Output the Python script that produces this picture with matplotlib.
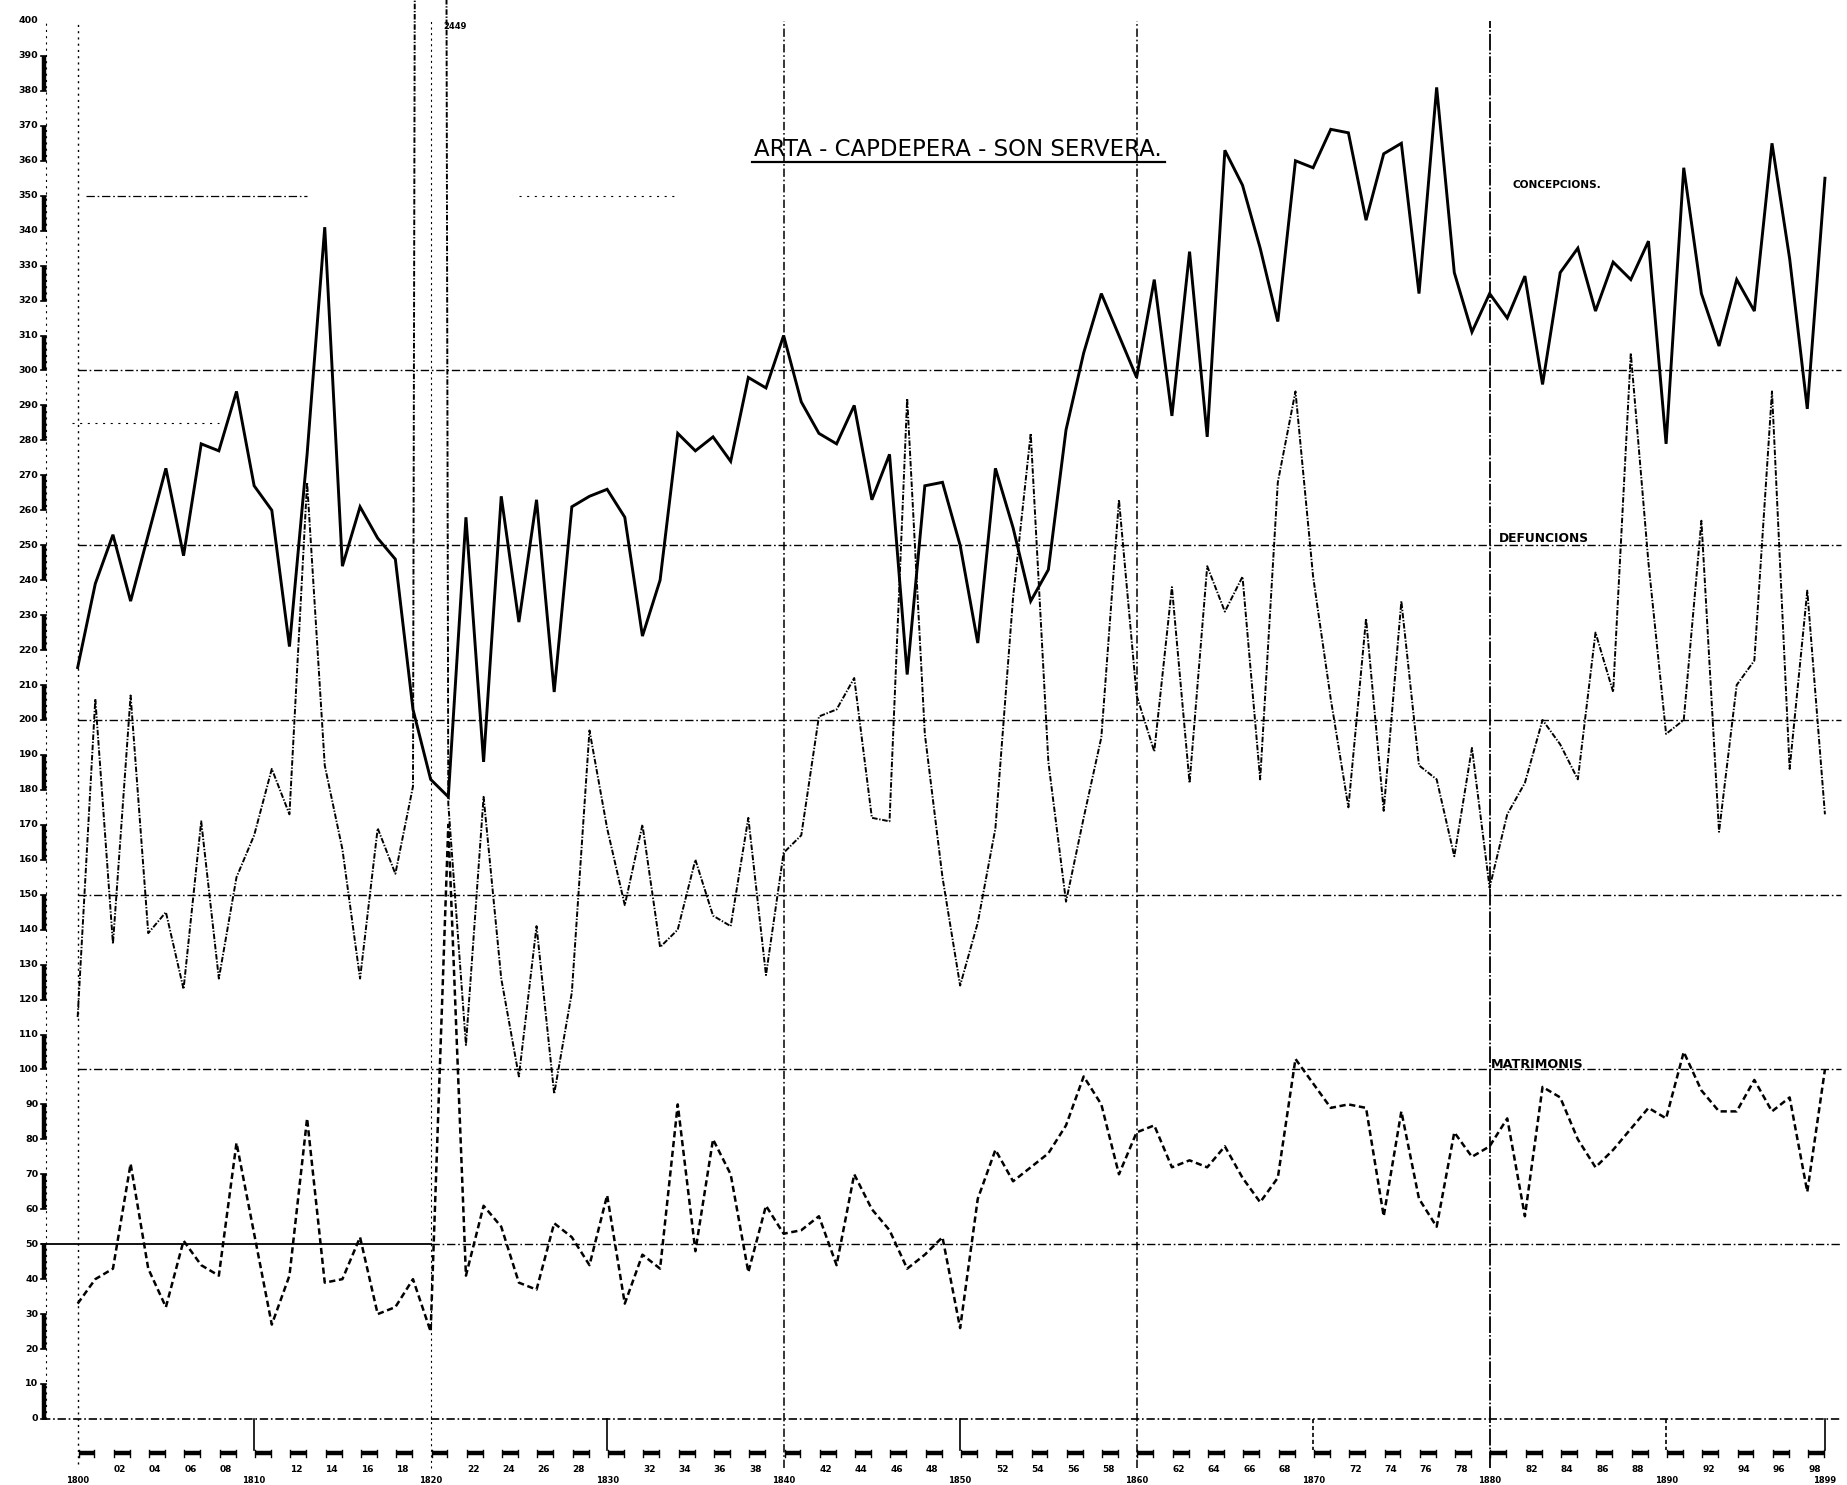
import numpy as np
import matplotlib
matplotlib.use("Agg")
import matplotlib.pyplot as plt
from matplotlib import font_manager

plt.rcParams["lines.scale_dashes"] = False

years = np.arange(1800, 1900)

concepcions = [215, 239, 253, 234, 253, 272, 247, 279, 277, 294,
               267, 260, 221, 276, 341, 244, 261, 252, 246, 203,
               183, 178, 258, 188, 264, 228, 263, 208, 261, 264,
               266, 258, 224, 240, 282, 277, 281, 274, 298, 295,
               310, 291, 282, 279, 290, 263, 276, 213, 267, 268,
               250, 222, 272, 255, 234, 243, 283, 305, 322, 310,
               298, 326, 287, 334, 281, 363, 353, 335, 314, 360,
               358, 369, 368, 343, 362, 365, 322, 381, 328, 311,
               322, 315, 327, 296, 328, 335, 317, 331, 326, 337,
               279, 358, 322, 307, 326, 317, 365, 332, 289, 355]

defuncions = [115, 206, 136, 207, 139, 145, 123, 171, 126, 155,
              167, 186, 173, 268, 187, 163, 126, 169, 156, 181,
              2449, 176, 107, 178, 126, 98, 141, 93, 122, 197,
              169, 147, 170, 135, 140, 160, 144, 141, 172, 127,
              162, 167, 201, 203, 212, 172, 171, 292, 196, 155,
              124, 142, 169, 235, 282, 188, 148, 172, 195, 263,
              207, 191, 238, 182, 244, 231, 241, 183, 268, 294,
              241, 206, 175, 229, 174, 234, 187, 183, 161, 192,
              152, 173, 182, 200, 193, 183, 225, 208, 305, 245,
              196, 200, 257, 168, 210, 217, 294, 186, 237, 173]

matrimonis = [33, 40, 43, 73, 43, 32, 51, 44, 41, 79,
              53, 27, 41, 86, 39, 40, 52, 30, 32, 40,
              25, 170, 41, 61, 55, 39, 37, 56, 52, 44,
              64, 33, 47, 43, 90, 48, 80, 70, 42, 61,
              53, 54, 58, 44, 70, 60, 54, 43, 47, 52,
              26, 63, 77, 68, 72, 76, 84, 98, 90, 70,
              82, 84, 72, 74, 72, 78, 69, 62, 69, 103,
              96, 89, 90, 89, 58, 88, 63, 55, 82, 75,
              78, 86, 58, 95, 92, 80, 72, 77, 83, 89,
              86, 105, 94, 88, 88, 97, 88, 92, 65, 100]

y_labels = list(range(0, 401, 10))
bracket_years = list(range(1800, 1899, 2))
decade_years = [1800, 1810, 1820, 1830, 1840, 1850, 1860, 1870, 1880, 1890]

title = "ARTA - CAPDEPERA - SON SERVERA."
series_names = ["CONCEPCIONS.", "DEFUNCIONS", "MATRIMONIS"]

names = {f.name for f in font_manager.fontManager.ttflist}
narrow = "Liberation Sans Narrow" if "Liberation Sans Narrow" in names else "DejaVu Sans"

fig = plt.figure(figsize=(18.47, 14.85), dpi=100)
ax = fig.add_axes([0, 0, 1, 1])
ax.set_xlim(1795.6, 1900.25)
ax.set_ylim(-18.9, 406)
ax.axis("off")

dashdot = (0, (6, 2, 1.2, 2))
k = "black"

# horizontal guide lines
for v in [100, 150, 200, 250, 300]:
    ax.plot([1800, 1899.9], [v, v], color=k, lw=1.0, ls=dashdot)
ax.plot([1798, 1820], [50, 50], color=k, lw=1.3)
ax.plot([1820, 1899.9], [50, 50], color=k, lw=1.0, ls=dashdot)
ax.plot([1798, 1899.9], [0, 0], color=k, lw=1.2, ls=dashdot)
ax.plot([1800.5, 1813], [350, 350], color=k, lw=0.9, ls=dashdot)
ax.plot([1825, 1834], [350, 350], color=k, lw=0.8, ls=(0, (1.5, 4)))
ax.plot([1799.7, 1808], [285, 285], color=k, lw=0.8, ls=(0, (1.5, 4)))

# vertical guide lines
ax.plot([1800, 1800], [-13, 400], color=k, lw=1.0, ls=(0, (1.5, 3)))
ax.plot([1820, 1820], [-14, 400], color=k, lw=0.8, ls=(0, (1.5, 2.5)))
for yr in [1840, 1860]:
    ax.plot([yr, yr], [-14, 400], color=k, lw=1.1, ls=dashdot)
ax.plot([1880, 1880], [-14, 400], color=k, lw=1.3, ls=(0, (12, 1.5, 1.2, 1.5)))
for yr in [1810, 1830, 1850, 1899]:
    ax.plot([yr, yr], [0, -9], color=k, lw=1.2)
for yr in [1870, 1890]:
    ax.plot([yr, yr], [0, -9], color=k, lw=1.2, ls=(0, (3, 2)))

# y ruler
xr = 1798.07
ax.plot([xr + 0.15, xr + 0.15], [0, 400], color=k, lw=0.8, ls=(0, (1.5, 3)))
for v in y_labels[:-1:2]:
    ax.plot([xr, xr], [v, v + 10], color=k, lw=3.2, solid_capstyle="butt")
    ax.plot([xr - 0.12, xr + 0.12], [v, v], color=k, lw=1.2)
    ax.plot([xr - 0.12, xr + 0.12], [v + 10, v + 10], color=k, lw=1.2)
for v in y_labels:
    ax.text(xr - 0.3, v, str(v), ha="right", va="center", fontsize=6.8,
            fontweight="bold", family=narrow)

# x brackets and year labels
for yr in bracket_years:
    ax.plot([yr + 0.05, yr + 0.95], [-9.7, -9.7], color=k, lw=3.2, solid_capstyle="butt")
    ax.plot([yr + 0.05, yr + 0.05], [-8.8, -10.8], color=k, lw=1.0)
    ax.plot([yr + 0.95, yr + 0.95], [-8.8, -10.8], color=k, lw=1.0)
    if yr % 10 != 0:
        ax.text(yr + 0.4, -14.6, "%02d" % (yr % 100), ha="center", va="center",
                fontsize=6.5, fontweight="bold", family=narrow)
for yr in decade_years + [1899]:
    ax.text(yr, -17.7, str(yr), ha="center", va="center", fontsize=6,
            fontweight="bold", family=narrow)

# series
ax.plot(years, concepcions, color=k, lw=2.1, solid_joinstyle="miter")
ax.plot(years, defuncions, color=k, lw=1.4, ls=(0, (4, 1.2, 1, 1.2)))
ax.plot(years, matrimonis, color=k, lw=1.8, ls=(0, (4.5, 2.6)))

# texts
ax.text(1849.9, 363.3, title, ha="center", va="center", fontsize=16.5, family="DejaVu Sans")
ax.plot([1838.2, 1861.6], [359.6, 359.6], color=k, lw=1.6)
ax.text(1881.3, 353, series_names[0], ha="left", va="center", fontsize=7.6,
        fontweight="bold", family=narrow)
ax.text(1880.5, 252, series_names[1], ha="left", va="center", fontsize=8.8,
        fontweight="bold", family=narrow)
ax.text(1880.1, 101.3, series_names[2], ha="left", va="center", fontsize=9.2,
        fontweight="bold", family=narrow)
ax.text(1820.7, 398.5, "2449", ha="left", va="center", fontsize=6,
        fontweight="bold", family=narrow)

fig.savefig("out.png", dpi=100, facecolor="white")
